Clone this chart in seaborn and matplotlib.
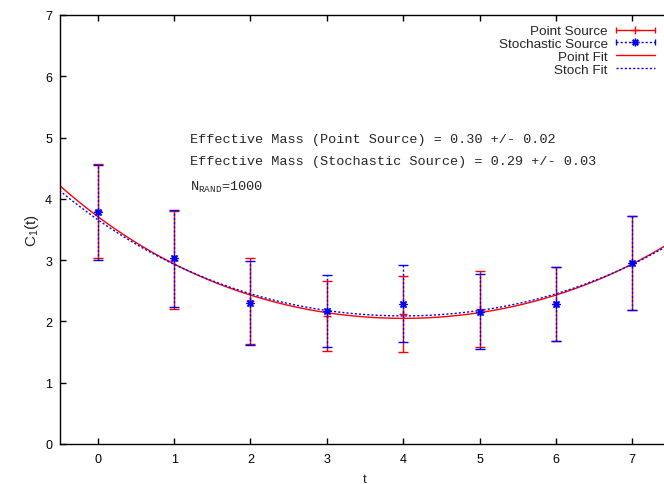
import numpy as np
import matplotlib
matplotlib.use("Agg")
import matplotlib.pyplot as plt
import pandas as pd
import seaborn as sns
from matplotlib.lines import Line2D
from matplotlib.legend_handler import HandlerLine2D, HandlerTuple

# Correlator C_1(t) for the two sources, with statistical errors
t = [0, 1, 2, 3, 4, 5, 6, 7]
c_point = [3.80, 3.01, 2.33, 2.09, 2.12, 2.21, 2.28, 2.95]
err_point = [0.77, 0.80, 0.70, 0.57, 0.62, 0.62, 0.60, 0.77]
c_stoch = [3.78, 3.03, 2.30, 2.17, 2.29, 2.16, 2.28, 2.95]
err_stoch = [0.77, 0.79, 0.69, 0.59, 0.63, 0.61, 0.60, 0.77]

# cosh fit parameters: C(t) = A cosh(m (t - T/2))
m_point, dm_point, a_point = 0.30, 0.02, 2.05
m_stoch, dm_stoch, a_stoch = 0.29, 0.03, 2.09
t_half = 4.0
n_rand = 1000

x_ticks = [0, 1, 2, 3, 4, 5, 6, 7]
y_ticks = [0, 1, 2, 3, 4, 5, 6, 7]
x_range = (-0.5, 7.5)
y_range = (0, 7)

sns.set_style("ticks")
plt.rcParams.update({
    "font.family": ["Liberation Sans", "DejaVu Sans"],
    "mathtext.fontset": "custom",
    "mathtext.rm": "Liberation Sans",
    "mathtext.it": "Liberation Sans:italic",
    "mathtext.tt": "Liberation Mono",
    "axes.edgecolor": "black",
    "axes.linewidth": 1.0,
    "xtick.color": "black",
    "ytick.color": "black",
})

W, H = 664, 485
fig = plt.figure(figsize=(W / 100, H / 100), dpi=100)
ax = fig.add_axes([59.5 / W, 40 / H, 611 / W, 429 / H])

# fitted curves
tf = np.linspace(x_range[0], x_range[1], 400)
fits = pd.DataFrame({
    "t": np.concatenate([tf, tf]),
    "C": np.concatenate([a_point * np.cosh(m_point * (tf - t_half)),
                         a_stoch * np.cosh(m_stoch * (tf - t_half))]),
    "fit": ["Point Fit"] * len(tf) + ["Stoch Fit"] * len(tf),
})
sns.lineplot(data=fits, x="t", y="C", hue="fit", style="fit",
             palette={"Point Fit": "red", "Stoch Fit": "blue"},
             dashes={"Point Fit": "", "Stoch Fit": (1.5, 1.5)},
             linewidth=1.0, legend=False, ax=ax, zorder=2)

# data with error bars
ax.errorbar(t, c_point, yerr=err_point, fmt="none", ecolor="red",
            elinewidth=1.0, capsize=3.5, capthick=1.0, zorder=3)
ax.plot(t, c_point, ls="none", marker="+", ms=6, mew=1.0, color="red", zorder=3)
eb = ax.errorbar(t, c_stoch, yerr=err_stoch, fmt="none", ecolor="blue",
                 elinewidth=1.0, capsize=3.5, capthick=1.0, zorder=4)
eb[2][0].set_linestyle((0, (1.5, 1.5)))
sns.scatterplot(x=t, y=c_stoch, marker=(8, 2, 0), s=26, color="blue",
                linewidth=1.0, edgecolor="blue", ax=ax, zorder=5)

ax.set_xlim(*x_range)
ax.set_ylim(*y_range)
ax.set_xticks(x_ticks)
ax.set_yticks(y_ticks)
ax.tick_params(direction="in", length=4.3, width=1.0, top=True, right=True,
               labelsize=9)
ax.tick_params(axis="x", pad=6.5)
ax.tick_params(axis="y", pad=5.4)
ax.set_xlabel("t", fontsize=9.5, labelpad=6)
ax.set_ylabel("C$_1$(t)", fontsize=11, labelpad=3)

# annotations
mono = {"family": "Liberation Mono", "fontsize": 9.7, "va": "center"}
ax.text(1.21, 4.98, f"Effective Mass (Point Source) = {m_point:.2f} +/- {dm_point:.2f}", **mono)
ax.text(1.21, 4.61, f"Effective Mass (Stochastic Source) = {m_stoch:.2f} +/- {dm_stoch:.2f}", **mono)
ax.text(1.21, 4.21, r"N$_{\mathtt{RAND}}$=" + f"{n_rand}", **mono)

# legend: key samples to the right of right-aligned labels
p_bar = Line2D([], [], color="red", lw=1.0, marker="|", ms=5, mew=1.0)
p_pt = Line2D([], [], color="red", ls="none", marker="+", ms=6, mew=1.0)
s_bar = Line2D([], [], color="blue", lw=1.0, ls=(0, (1.5, 1.5)), marker="|", ms=5, mew=1.0)
s_pt = Line2D([], [], color="blue", ls="none", marker=(8, 2, 0), ms=5.5, mew=1.0)
p_fit = Line2D([], [], color="red", lw=1.0)
s_fit = Line2D([], [], color="blue", lw=1.0, ls=(0, (1.5, 1.5)))
hmap = {
    tuple: HandlerTuple(ndivide=1, pad=0),
    p_bar: HandlerLine2D(numpoints=2, marker_pad=0),
    s_bar: HandlerLine2D(numpoints=2, marker_pad=0),
    p_pt: HandlerLine2D(numpoints=1),
    s_pt: HandlerLine2D(numpoints=1),
}
leg = fig.legend([(p_bar, p_pt), (s_bar, s_pt), p_fit, s_fit],
                 ["Point Source", "Stochastic Source", "Point Fit", "Stoch Fit"],
                 handler_map=hmap, loc="upper right",
                 bbox_to_anchor=(655 / W, 1 - 26 / H), markerfirst=False,
                 frameon=False, fontsize=9.7, handlelength=2.9,
                 handletextpad=0.6, labelspacing=0.02, borderpad=0,
                 borderaxespad=0)

fig.savefig("out.png", dpi=100)
